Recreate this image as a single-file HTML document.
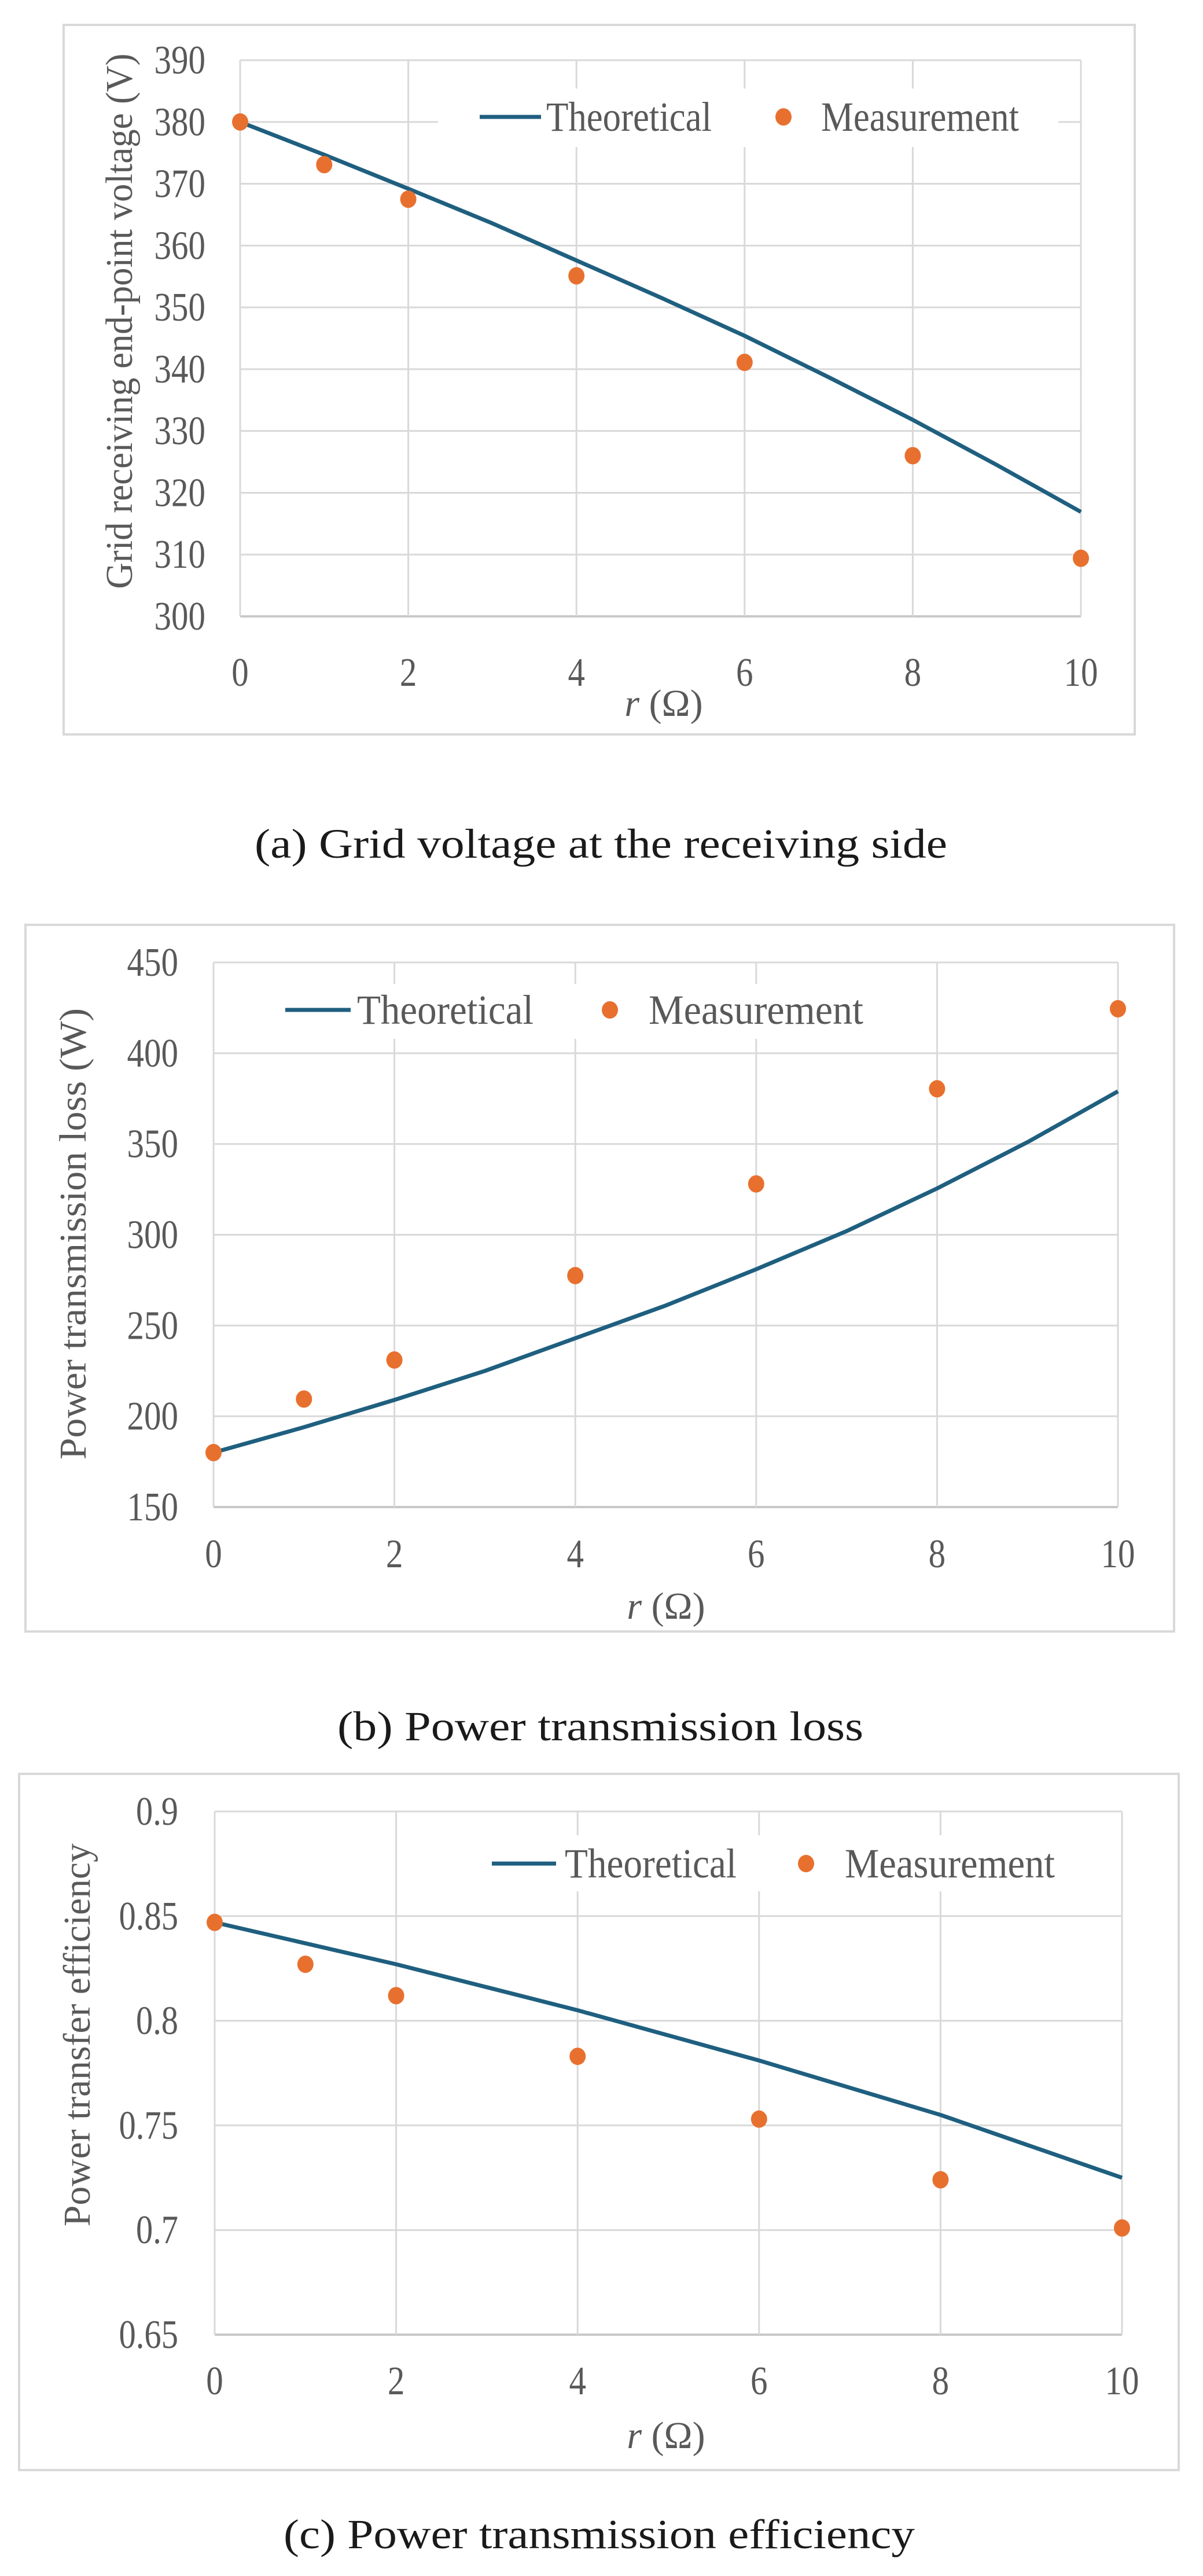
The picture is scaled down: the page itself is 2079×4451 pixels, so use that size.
<!DOCTYPE html>
<html><head><meta charset="utf-8"><style>
html,body{margin:0;padding:0;background:#fff;}
svg{display:block;font-family:"Liberation Serif",serif;}
</style></head><body>
<svg id="fig" width="2079" height="4451" viewBox="0 0 2079 4451" xmlns="http://www.w3.org/2000/svg">
<rect x="0" y="0" width="2079" height="4451" fill="#fff"/>
</svg>
<script>
const xTicks = [0, 2, 4, 6, 8, 10];
const rTheory = [0,1,2,3,4,5,6,7,8,9,10];
const rMeas = [0,1,2,4,6,8,10];

const voltTheory = [380, 374.7, 369.2, 363.6, 357.6, 351.6, 345.4, 338.7, 331.8, 324.5, 316.9];
const voltMeas = [380, 373.1, 367.5, 355.1, 341.1, 326, 309.4];
const voltTicks = [300, 310, 320, 330, 340, 350, 360, 370, 380, 390];
const voltTickLabels = ["300","310","320","330","340","350","360","370","380","390"];

const lossTheory = [180, 194, 209, 225, 243, 261, 281, 302, 325.5, 351, 379];
const lossMeas = [180, 209.5, 231, 277.5, 328, 380.4, 424.5];
const lossTicks = [150, 200, 250, 300, 350, 400, 450];
const lossTickLabels = ["150","200","250","300","350","400","450"];

const effTheory = [0.847, 0.837, 0.827, 0.816, 0.805, 0.793, 0.781, 0.768, 0.755, 0.740, 0.725];
const effMeas = [0.847, 0.827, 0.812, 0.783, 0.753, 0.724, 0.701];
const effTicks = [0.65, 0.7, 0.75, 0.8, 0.85, 0.9];
const effTickLabels = ["0.65","0.7","0.75","0.8","0.85","0.9"];

const NS = "http://www.w3.org/2000/svg";
const svg = document.getElementById("fig");
function mk(tag, attrs, parent){
  const e = document.createElementNS(NS, tag);
  for (const k in attrs) e.setAttribute(k, attrs[k]);
  (parent || svg).appendChild(e);
  return e;
}
function labW(s){ let w=0; for (const ch of s) w += (ch==='.'?14:29.5); return w; }

function drawChart(c){
  const g = mk("g", {});
  
  
  const sx = v => c.x0 + (v - 0) / 10 * (c.x1 - c.x0);
  const sy = v => c.yBot + (v - c.ymin) / (c.ymax - c.ymin) * (c.yTop - c.yBot);
  const frame = mk("rect", {x:c.bx, y:c.by, width:c.bw, height:c.bh, fill:"#fff", stroke:"#d9d9d9", "stroke-width":4}, g);
  
  
  c.yticks.forEach((t,i) => {
    const l = mk("line", {x1:c.x0, x2:c.x1, y1:sy(t), y2:sy(t), stroke:(i===0?"#c8c8c8":"#d9d9d9"), "stroke-width":(i===0?4:3)}, g);
    
    
    const tx = mk("text", {x:c.labR, y:sy(t)+23, "text-anchor":"end", "font-size":70, fill:"#595959", textLength:labW(c.ylabels[i]), lengthAdjust:"spacingAndGlyphs"}, g);
    tx.textContent = c.ylabels[i];
    
    
  });
  xTicks.forEach(t => {
    const l = mk("line", {x1:sx(t), x2:sx(t), y1:c.yTop, y2:c.yBot, stroke:"#d9d9d9", "stroke-width":3}, g);
    
    
    const s = String(t);
    const tx = mk("text", {x:sx(t), y:c.xlabY+2, "text-anchor":"middle", "font-size":70, fill:"#595959", textLength:labW(s), lengthAdjust:"spacingAndGlyphs"}, g);
    tx.textContent = s;
    
    
  });
  const lb = mk("rect", {x:c.legBox[0], y:c.legBox[1], width:c.legBox[2], height:c.legBox[3], fill:"#fff"}, g);
  
  
  const pts = c.theory.map((v,i) => sx(rTheory[i]).toFixed(1)+","+sy(v).toFixed(1)).join(" ");
  const pl = mk("polyline", {points:pts, fill:"none", stroke:"#1f5f7f", "stroke-width":7, "stroke-linejoin":"round"}, g);
  
  
  c.meas.forEach((v,i) => {
    const d = mk("ellipse", {cx:sx(rMeas[i]), cy:sy(v), rx:14, ry:15, fill:"#e8702f"}, g);
    
    
  });
  const L = c.leg;
  const ll = mk("line", {x1:L.lx0, x2:L.lx1, y1:L.y, y2:L.y, stroke:"#1f5f7f", "stroke-width":7}, g);
  
  
  const t1 = mk("text", {x:L.t1x, y:L.y+24, "font-size":72, fill:"#595959", textLength:L.t1w, lengthAdjust:"spacingAndGlyphs"}, g);
  t1.textContent = "Theoretical";
  
  
  const ld = mk("ellipse", {cx:L.dx, cy:L.y, rx:14, ry:15, fill:"#e8702f"}, g);
  
  
  const t2 = mk("text", {x:L.t2x, y:L.y+24, "font-size":72, fill:"#595959", textLength:L.t2w, lengthAdjust:"spacingAndGlyphs"}, g);
  t2.textContent = "Measurement";
  
  
  const xt = mk("text", {x:c.xtX, y:c.xtY, "text-anchor":"middle", "font-size":66, fill:"#595959"}, g);
  xt.innerHTML = '<tspan font-style="italic">r</tspan> (Ω)';
  
  
  const yt = mk("text", {x:0, y:0, "text-anchor":"middle", "font-size":66, fill:"#595959", textLength:c.ytLen, lengthAdjust:"spacingAndGlyphs", transform:"translate("+(c.ytX+22)+","+c.ytY+") rotate(-90)"}, g);
  yt.textContent = c.ytitle;
  
  
  const cap = mk("text", {x:c.capX, y:c.capY, "font-size":72, fill:"#1a1a1a", textLength:c.capW, lengthAdjust:"spacingAndGlyphs"}, g);
  cap.textContent = c.caption;
  
  
}

drawChart({name:"chart-grid-voltage", bx:110, by:43, bw:1851, bh:1226,
  x0:415, x1:1868, yTop:104, yBot:1065, ymin:300, ymax:390,
  yticks:voltTicks, ylabels:voltTickLabels, labR:355, xlabY:1183,
  theory:voltTheory, meas:voltMeas,
  legBox:[757,153,1072,101],
  leg:{lx0:829, lx1:935, y:202, t1x:944, t1w:286, dx:1354, t2x:1419, t2w:342},
  xtX:1147, xtY:1237, ytX:206, ytY:555, ytLen:925,
  ytitle:"Grid receiving end-point voltage (V)",
  caption:"(a) Grid voltage at the receiving side", capX:440, capY:1482, capW:1197});

drawChart({name:"chart-transmission-loss", bx:44, by:1598, bw:1985, bh:1221,
  x0:369, x1:1932, yTop:1663, yBot:2604, ymin:150, ymax:450,
  yticks:lossTicks, ylabels:lossTickLabels, labR:308, xlabY:2706,
  theory:lossTheory, meas:lossMeas,
  legBox:[470,1700,1060,95],
  leg:{lx0:493, lx1:606, y:1745, t1x:617, t1w:305, dx:1054, t2x:1121, t2w:371},
  xtX:1151, xtY:2797, ytX:126, ytY:2132, ytLen:780,
  ytitle:"Power transmission loss (W)",
  caption:"(b) Power transmission loss", capX:583, capY:3007, capW:909});

drawChart({name:"chart-transfer-efficiency", bx:33, by:3065, bw:2004, bh:1203,
  x0:371, x1:1939, yTop:3130, yBot:4034, ymin:0.65, ymax:0.9,
  yticks:effTicks, ylabels:effTickLabels, labR:308, xlabY:4135,
  theory:effTheory, meas:effMeas,
  legBox:[822,3171,1035,97],
  leg:{lx0:850, lx1:961, y:3220, t1x:976, t1w:297, dx:1393, t2x:1460, t2w:363},
  xtX:1151, xtY:4230, ytX:133, ytY:3516, ytLen:662,
  ytitle:"Power transfer efficiency",
  caption:"(c) Power transmission efficiency", capX:490, capY:4403, capW:1091});
</script>
</body></html>
